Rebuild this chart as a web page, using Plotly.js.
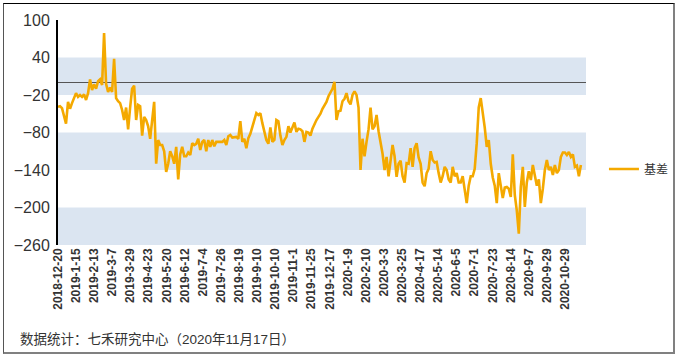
<!DOCTYPE html>
<html><head><meta charset="utf-8">
<script src="https://cdn.plot.ly/plotly-3.0.1.min.js"></script>
<style>
html,body{margin:0;padding:0;background:#fff;}
#chart{position:absolute;left:0;top:0;width:677px;height:359px;}
#frame{position:absolute;left:3px;top:3px;width:669px;height:348px;border-top:1px solid #000;border-left:1px solid #555;border-right:2px solid #808080;border-bottom:2px solid #808080;pointer-events:none;}
</style></head>
<body>
<div id="chart"></div><div id="frame"></div>
<script>
const seriesName = '基差';
const sourceNote = '数据统计：七禾研究中心（2020年11月17日）';

const tickLabels = ['2018-12-20','2019-1-15','2019-2-13','2019-3-7','2019-3-29','2019-4-23','2019-5-20','2019-6-12','2019-7-4','2019-7-26','2019-8-19','2019-9-10','2019-10-10','2019-11-1','2019-11-25','2019-12-17','2020-1-9','2020-2-10','2020-3-3','2020-3-25','2020-4-17','2020-5-14','2020-6-5','2020-7-1','2020-7-23','2020-8-14','2020-9-7','2020-9-29','2020-10-29'];

const yTicks = [100, 40, -20, -80, -140, -200, -260];

// basis values (roughly every other trading day)
const basis = [
-39,-38,-41,-52,-66,-31,-42,-33,-25,-17,-23,-20,-23,-19,-28,-17,5,-12,-3,-10,2,5,-4,79,-2,-15,-8,-15,38,-25,-30,-33,-44,-60,-40,-75,-40,-10,-5,-60,-36,-38,-85,-55,
-60,-70,-90,-55,-31,-130,-92,-100,-100,-110,-143,-130,-110,-118,-130,-103,-155,-115,-103,-118,-118,-112,-116,-97,-100,-98,-90,-108,-95,-92,-110,-92,-103,-92,-102,-95,-95,-95,-95,-92,-100,-86,-84,-88,-88,
-87,-90,-62,-95,-90,-105,-89,-82,-70,-60,-49,-52,-49,-65,-79,-92,-98,-72,-95,-92,-60,-62,-85,-100,-92,-87,-70,-80,-72,-64,-79,-74,-75,-78,-95,-79,-80,-85,-74,-66,-60,-55,-50,-42,-37,
-31,-22,-15,-10,1,-60,-46,-45,-30,-26,-17,-30,-35,-20,-14,-20,-40,-140,-90,-118,-95,-75,-40,-75,-70,-52,-78,-95,-114,-140,-119,-150,-125,-100,-118,-151,-130,-125,-150,-160,-129,-130,-105,-135,-105,
-97,-120,-130,-160,-166,-145,-138,-110,-124,-128,-127,-145,-160,-150,-135,-140,-155,-160,-135,-150,-145,-160,-160,-150,-175,-193,-165,-150,-150,-138,-97,-40,-25,-47,-72,-103,-92,-130,-152,-165,-193,-145,-165,-185,-168,
-167,-170,-183,-115,-180,-205,-242,-167,-135,-199,-160,-142,-156,-132,-150,-165,-155,-193,-170,-140,-124,-140,-135,-148,-132,-145,-140,-119,-112,-112,-116,-111,-119,-115,-135,-133,-150,-132
];

const totalTradingDays = 462;   // span from first to last observation
const labelEvery = 16;          // trading days between axis labels

const xs = basis.map((v, i) => i * totalTradingDays / (basis.length - 1));
const tickVals = tickLabels.map((t, k) => k * labelEvery);

const bands = [];
for (let k = 1; k + 1 < yTicks.length; k += 2) {
  bands.push({type:'rect', xref:'paper', yref:'y', x0:0, x1:1, y0:yTicks[k], y1:yTicks[k+1],
    fillcolor:'#DBE5F1', line:{width:0}, layer:'below'});
}

const trace = {
  x: xs, y: basis, type:'scatter', mode:'lines', name: seriesName,
  line:{color:'#F4A900', width:2.6}
};

const layout = {
  width:677, height:359,
  margin:{l:58, r:91, t:20, b:114, autoexpand:false},
  paper_bgcolor:'rgba(0,0,0,0)', plot_bgcolor:'rgba(0,0,0,0)',
  font:{family:'Liberation Sans, Arial, sans-serif', color:'#333'},
  showlegend:true,
  legend:{x:1.034, xanchor:'left', y:0.338, yanchor:'middle', font:{size:12, family:'Noto Sans CJK SC, sans-serif', color:'#333'}, bgcolor:'rgba(0,0,0,0)'},
  xaxis:{type:'linear', range:[0, 466.5], tickmode:'array', tickvals:tickVals, ticktext:tickLabels,
    tickangle:-90, tickfont:{size:12, color:'#333', family:'Liberation Sans, Arial, sans-serif', weight:'bold'},
    showgrid:false, zeroline:false, showline:false, ticks:'', fixedrange:true},
  yaxis:{range:[-260, 100], tickmode:'array', tickvals:yTicks, tickfont:{size:16, color:'#333'},
    showgrid:false, zeroline:true, zerolinecolor:'#555', zerolinewidth:1.5,
    showline:true, linecolor:'#000', linewidth:2, ticks:'outside', ticklen:3, tickcolor:'rgba(0,0,0,0)'},
  shapes: bands,
  annotations:[{text:sourceNote, xref:'paper', yref:'paper', x:-0.076, y:-0.422, xanchor:'left', yanchor:'middle',
    showarrow:false, font:{size:13.5, color:'#333', family:'Liberation Sans, Noto Sans CJK SC, sans-serif'}}]
};

Plotly.newPlot('chart', [trace], layout, {displayModeBar:false, staticPlot:true});
</script>
</body></html>
